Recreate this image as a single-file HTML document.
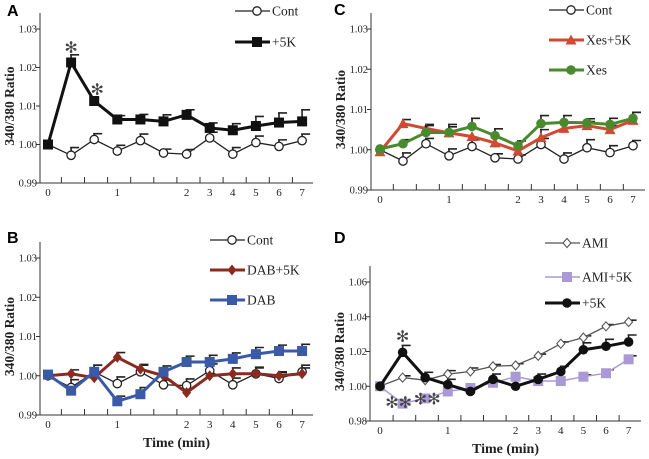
<!DOCTYPE html>
<html><head><meta charset="utf-8">
<style>
html,body{margin:0;padding:0;background:#fff;width:649px;height:459px;overflow:hidden}
svg{display:block}
text{font-family:"Liberation Serif",serif;fill:#222}
</style></head>
<body>
<svg id="fig" width="649" height="459" viewBox="0 0 649 459"></svg>
<script>
// ---- data ----
const tickLabels = ["0","1","2","3","4","5","6","7"];
const tickIdx = [0,3,6,7,8,9,10,11];
const aCont = [1.000,0.9972,1.0013,0.9983,1.0010,0.9978,0.9975,1.0017,0.9975,1.0005,0.9995,1.0010];
const aCont_err = [0,0.002,0.0015,0.0015,0.0017,0.001,0.0012,0.0015,0.0017,0.0017,0.0017,0.0017];
const a5K = [1.000,1.0213,1.0113,1.0065,1.0065,1.0060,1.0077,1.0043,1.0037,1.0048,1.0057,1.0060];
const a5K_err = [0,0.002,0,0.001,0.0013,0.0017,0.0013,0.0013,0.0017,0.0025,0.0025,0.003];
const bCont = [1.000,0.9970,1.0010,0.9980,1.0010,0.9977,0.9975,1.0013,0.9977,1.0005,0.9993,1.0010];
const bCont_err = [0,0.002,0.0017,0.0017,0.0017,0.0012,0.0017,0.0017,0.0017,0.0017,0.0015,0.0017];
const bDAB5K = [1.000,1.0005,0.9995,1.0047,1.0017,1.000,0.9957,1.000,1.0005,1.0005,1.000,1.0005];
const bDAB5K_err = [0,0.001,0,0.0012,0.0012,0,0,0,0.0015,0.0015,0.001,0.0015];
const bDAB = [1.0003,0.9962,1.0010,0.9935,0.9953,1.0010,1.0035,1.0035,1.0043,1.0055,1.0063,1.0063];
const bDAB_err = [0,0,0.0017,0.0013,0.0017,0.0015,0.0015,0.0017,0.0015,0.0017,0.0015,0.0017];
const cCont = [1.000,0.9972,1.0015,0.9985,1.0008,0.9980,0.9977,1.0013,0.9977,1.0005,0.9993,1.0010];
const cCont_err = [0,0.002,0.0013,0.0017,0.0017,0.001,0.001,0.0015,0.0015,0.002,0.0017,0.0013];
const cXes5K = [0.9995,1.0065,1.0053,1.0042,1.0033,1.0017,0.9997,1.0030,1.0053,1.0060,1.0050,1.0073];
const cXes5K_err = [0,0.001,0.001,0.0015,0,0,0,0.002,0.0015,0.001,0.001,0.002];
const cXes = [1.0002,1.0015,1.0043,1.0043,1.0058,1.0035,1.0010,1.0065,1.0068,1.0067,1.0063,1.0078];
const cXes_err = [0,0.001,0.0017,0.002,0.002,0.0017,0.0012,0.002,0.0017,0.001,0.0015,0.0015];
const dAMI = [1.000,1.005,1.0035,1.007,1.0085,1.0115,1.012,1.0175,1.0245,1.028,1.0345,1.037];
const dAMI_err = [0,0.001,0.001,0.002,0.002,0.001,0.001,0.001,0.001,0.001,0.001,0.001];
const dAMI5K = [1.000,0.990,0.993,0.997,0.999,1.002,1.0055,1.003,1.003,1.0055,1.0075,1.0155];
const dAMI5K_err = [0,0,0,0,0,0,0,0,0,0.001,0.002,0.002];
const d5K = [1.000,1.0195,1.005,1.001,0.997,1.004,1.000,1.004,1.0085,1.021,1.023,1.0255];
const d5K_err = [0,0.004,0.003,0.003,0,0.003,0,0.003,0.003,0.004,0.004,0.004];

const NS="http://www.w3.org/2000/svg";
const svg=document.getElementById('fig');
function el(tag,attrs,parent,txt){const e=document.createElementNS(NS,tag);for(const k in attrs)e.setAttribute(k,attrs[k]);if(txt!==undefined)e.textContent=txt;(parent||svg).appendChild(e);return e;}

function panel(p){
  const g=el('g',{});
  
  
  const xs=i=>p.x0+i*p.dx;
  const ys=v=>p.yb-(v-p.ymin)/(p.ymax-p.ymin)*(p.yb-p.yt);
  const L=el('text',{x:p.lx,y:p.ly,'font-size':16,'font-weight':'bold',style:'font-family:"Liberation Sans",sans-serif;fill:#000'},g,p.letter);
  
  const ax=el('path',{d:`M${p.ax} ${p.yt-16}V${p.yb}H${p.axEnd}`,stroke:'#333','stroke-width':1,fill:'none'},g);
  
  p.yticks.forEach((t,k)=>{
    const y=ys(t);
    el('line',{x1:p.ax-4,x2:p.ax,y1:y,y2:y,stroke:'#333'},g);
    const tl=el('text',{x:p.ax-3,y:y+3.5,'font-size':10.5,'text-anchor':'end',fill:'#444'},g,p.ytl[k]);
    
  });
  for(let i=0;i<11;i++){const x=xs(i)+p.dx/2+p.dx*0.08;el('line',{x1:x,x2:x,y1:p.yb-6,y2:p.yb,stroke:'#333'},g);}
  tickIdx.forEach((i,k)=>{
    const tl=el('text',{x:xs(i),y:p.yb+13,'font-size':11,'text-anchor':'middle',fill:'#444'},g,tickLabels[k]);
    
  });
  const yt=el('text',{x:0,y:0,'font-size':13.5,'font-weight':'bold','text-anchor':'middle',transform:`translate(${p.ax-26},${(p.yt+p.yb)/2}) rotate(-90)`},g,'340/380 Ratio');
  
  if(p.xtitle){const xt=el('text',{x:(p.ax+p.axEnd)/2,y:p.yb+32,'font-size':14,'font-weight':'bold','text-anchor':'middle'},g,'Time (min)');
    }
  p.series.forEach((s,si)=>{
    const sg=el('g',{},g);
    
    
    s.data.forEach((v,i)=>{const e=s.err[i];if(e>0){const x=xs(i),y=ys(v),y2=ys(v+e);
      el('path',{d:`M${x} ${y}V${y2}M${x-1} ${y2}H${x+8}`,stroke:s.ecol||'#222','stroke-width':1.6,fill:'none'},sg);}});
    const pts=s.data.map((v,i)=>xs(i)+','+ys(v)).join(' ');
    el('polyline',{points:pts,fill:'none',stroke:s.color,'stroke-width':s.w},sg);
    s.data.forEach((v,i)=>marker(sg,s,xs(i),ys(v)));
    const ly=p.legY[si], lx=p.legX;
    const lg=el('g',{},g);
    
    el('line',{x1:lx,x2:lx+35,y1:ly,y2:ly,stroke:s.color,'stroke-width':s.w},lg);
    marker(lg,s,lx+22,ly);
    el('text',{x:lx+37,y:ly+4.5,'font-size':13.5,fill:'#222'},lg,s.name);
  });
  (p.stars||[]).forEach(st=>{
    const t=el('text',{x:xs(st[0])+(st[2]||0),y:ys(st[1]),'font-size':16,'text-anchor':'middle',style:'font-family:"DejaVu Sans",sans-serif;fill:#444'},g,st[3]||'✻');
    
  });
}
function marker(g,s,x,y){
  const m=s.m;
  if(m==='circ')el('circle',{cx:x,cy:y,r:4.2,fill:'#fff',stroke:s.color,'stroke-width':1.3},g);
  else if(m==='fcirc')el('circle',{cx:x,cy:y,r:4.8,fill:s.color},g);
  else if(m==='sq')el('rect',{x:x-5,y:y-5,width:10,height:10,fill:s.color},g);
  else if(m==='tri')el('path',{d:`M${x} ${y-5.5}L${x+5.5} ${y+4.5}H${x-5.5}Z`,fill:s.color},g);
  else if(m==='dia')el('path',{d:`M${x} ${y-5.5}L${x+4.5} ${y}L${x} ${y+5.5}L${x-4.5} ${y}Z`,fill:s.color},g);
  else if(m==='odia')el('path',{d:`M${x} ${y-4.5}L${x+4} ${y}L${x} ${y+4.5}L${x-4} ${y}Z`,fill:'#fff',stroke:s.color,'stroke-width':1.1},g);
}
const t4=[0.99,1.00,1.01,1.02,1.03], t4l=["0.99","1.00","1.01","1.02","1.03"];
panel({letter:'A',lx:7,ly:16,ax:40,axEnd:313,x0:48,dx:23.1,yt:29,yb:183,ymin:0.99,ymax:1.03,yticks:t4,ytl:t4l,
  legX:235,legY:[11,42],
  series:[{name:'Cont',data:aCont,err:aCont_err,color:'#222',w:1.3,m:'circ'},
          {name:'+5K',data:a5K,err:a5K_err,color:'#111',w:3,m:'sq'}],
  stars:[[1,1.0238,0],[2,1.0128,3]]});
panel({letter:'C',lx:334,ly:15,ax:371,axEnd:645,x0:380,dx:23,yt:29,yb:190,ymin:0.99,ymax:1.03,yticks:t4,ytl:t4l,
  legX:549,
  legY:[10,40,70],
  series:[{name:'Cont',data:cCont,err:cCont_err,color:'#222',w:1.3,m:'circ'},
          {name:'Xes+5K',data:cXes5K,err:cXes5K_err,color:'#d04a33',w:3,m:'tri'},
          {name:'Xes',data:cXes,err:cXes_err,color:'#4a8a2e',w:3,m:'fcirc'}]});
panel({letter:'B',lx:7,ly:243,ax:40,axEnd:313,x0:48,dx:23.1,yt:258,yb:415,ymin:0.99,ymax:1.03,yticks:t4,ytl:t4l,xtitle:true,
  legX:210,legY:[240,270,300],
  series:[{name:'Cont',data:bCont,err:bCont_err,color:'#222',w:1.3,m:'circ'},
          {name:'DAB+5K',data:bDAB5K,err:bDAB5K_err,color:'#8b2a1e',w:3,m:'dia'},
          {name:'DAB',data:bDAB,err:bDAB_err,color:'#3a5aa8',w:3,m:'sq'}]});
panel({letter:'D',lx:334,ly:243,ax:370,axEnd:641,x0:380,dx:22.6,yt:282,yb:421,ymin:0.98,ymax:1.06,
  yticks:[0.98,1.00,1.02,1.04,1.06],ytl:["0.98","1.00","1.02","1.04","1.06"],xtitle:true,
  legX:545,legY:[243,277,303],
  series:[{name:'AMI',data:dAMI,err:dAMI_err,color:'#555',w:1.3,m:'odia'},
          {name:'AMI+5K',data:dAMI5K,err:dAMI5K_err,color:'#a99ad6',w:1.5,m:'sq'},
          {name:'+5K',data:d5K,err:d5K_err,color:'#111',w:3,m:'fcirc'}],
  stars:[[1,1.0255,0],[1,0.9875,-4,'✻✻'],[2,0.9895,2,'✻✻']]});
</script>
</body></html>
